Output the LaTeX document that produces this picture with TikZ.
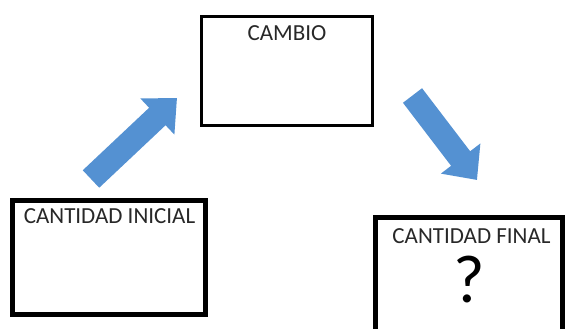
\documentclass[tikz,border=0pt]{standalone}
\usepackage{fontspec}
\setmainfont{Carlito}
\usetikzlibrary{arrows.meta}
\definecolor{arrowblue}{RGB}{84,145,210}
\definecolor{txt}{RGB}{40,40,40}
\tikzset{
  box/.style={draw=black, fill=white, inner sep=0pt},
  lbl/.style={anchor=base, inner sep=0pt, text=txt, font=\fontsize{23}{23}\selectfont},
  fat/.style={draw=arrowblue, line width=24pt, -{Triangle[length=27pt,width=48pt]}}
}
\begin{document}
\begin{tikzpicture}[x=1pt,y=-1pt]
\useasboundingbox (0,0) rectangle (568,329);
\clip (0,0) rectangle (568,329);
\fill[white] (0,0) rectangle (568,329);
% boxes
\node[box, line width=5pt, minimum width=193pt, minimum height=114pt] (ini) at (109,257.5) {};
\node[box, line width=3pt, minimum width=171pt, minimum height=109pt] (cam) at (287,71) {};
\node[box, line width=5pt, minimum width=187pt, minimum height=130pt] (fin) at (469,282.5) {};
% labels
\node[lbl] (tini) at (109.5,223) {CANTIDAD INICIAL};
\node[lbl] (tcam) at (287,41) {CAMBIO};
\node[lbl] (tfin) at (471.5,243) {CANTIDAD FINAL};
\node[lbl, text=black, font=\fontsize{68}{68}\selectfont] (q) at (469,302) {?};
% arrows
\coordinate (a1s) at (91,179);
\coordinate (a1e) at (177,98);
\coordinate (a2s) at (412.5,95.5);
\coordinate (a2e) at (477,180);
\draw[fat] (a1s) -- (a1e);
\draw[fat] (a2s) -- (a2e);
\end{tikzpicture}
\end{document}
